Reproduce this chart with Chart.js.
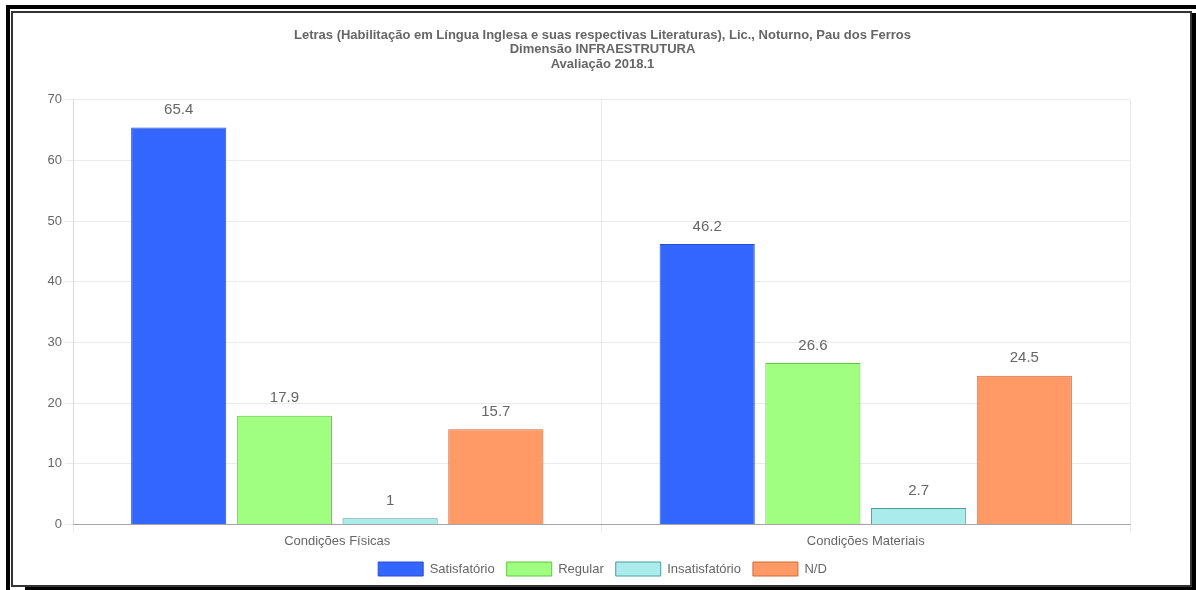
<!DOCTYPE html>
<html>
<head>
<meta charset="utf-8">
<script src="https://cdn.jsdelivr.net/npm/chart.js@4/dist/chart.umd.min.js"></script>
<style>
  html, body { margin: 0; padding: 0; background: #fff; }
  body { width: 1196px; height: 590px; position: relative; overflow: hidden; }
  .outer { position: absolute; left: 6px; top: 5px; width: 1190px; height: 585px;
           border-top: 4px solid #000; border-left: 4px solid #000; box-sizing: border-box; }
  .inner { position: absolute; left: 11px; top: 11px; width: 1181px; height: 576px;
           border: 2px solid #333; box-sizing: border-box; }
  .shadow-r { position: absolute; left: 1192px; top: 13px; width: 4px; height: 577px; background: #000; }
  .shadow-b { position: absolute; left: 25px; top: 587px; width: 1171px; height: 3px; background: #000; }
  .wrap { position: absolute; left: 14px; top: 14px; width: 1177px; height: 572px; }
</style>
</head>
<body>
<div class="outer"></div>
<div class="inner"></div>
<div class="shadow-r"></div>
<div class="shadow-b"></div>
<div class="wrap"><canvas id="chart"></canvas></div>
<script>
// Categories and series (percentages)
const categories = ['Condições Físicas', 'Condições Materiais'];
const satisfatorio = [65.4, 46.2];
const regular = [17.9, 26.6];
const insatisfatorio = [1, 2.7];
const naoDisponivel = [15.7, 24.5];
const seriesNames = ['Satisfatório', 'Regular', 'Insatisfatório', 'N/D'];
const titleLines = [
  'Letras (Habilitação em Língua Inglesa e suas respectivas Literaturas), Lic., Noturno, Pau dos Ferros',
  'Dimensão INFRAESTRUTURA',
  'Avaliação 2018.1'
];

const FONT = "Arial, 'Liberation Sans', Helvetica, sans-serif";
Chart.defaults.font.family = FONT;
Chart.defaults.color = '#666';

// Writes each bar's value above it
const valueLabels = {
  id: 'valueLabels',
  afterDatasetsDraw(chart) {
    const ctx = chart.ctx;
    ctx.save();
    ctx.font = '15px ' + FONT;
    ctx.fillStyle = '#666';
    ctx.textAlign = 'center';
    ctx.textBaseline = 'bottom';
    chart.data.datasets.forEach((ds, i) => {
      chart.getDatasetMeta(i).data.forEach((bar, j) => {
        ctx.fillText(String(ds.data[j]), bar.x, bar.y - 10);
      });
    });
    ctx.restore();
  }
};

new Chart(document.getElementById('chart'), {
  type: 'bar',
  data: {
    labels: categories,
    datasets: [
      { label: seriesNames[0], data: satisfatorio, backgroundColor: '#3366FF', borderColor: '#2A4FCC', borderWidth: 1 },
      { label: seriesNames[1], data: regular, backgroundColor: '#A0FF80', borderColor: '#5FC83C', borderWidth: 1 },
      { label: seriesNames[2], data: insatisfatorio, backgroundColor: '#AAEBEB', borderColor: '#4A9E9E', borderWidth: 1 },
      { label: seriesNames[3], data: naoDisponivel, backgroundColor: '#FF9966', borderColor: '#D0693A', borderWidth: 1 }
    ]
  },
  options: {
    responsive: true,
    maintainAspectRatio: false,
    animation: false,
    categoryPercentage: 0.8,
    barPercentage: 0.9,
    layout: { padding: { left: 0, right: 0, top: 4, bottom: 0 } },
    plugins: {
      title: {
        display: true,
        text: titleLines,
        color: '#666',
        font: { size: 13, weight: 'bold', lineHeight: 1.12 },
        padding: { top: 10, bottom: 28 }
      },
      legend: {
        position: 'bottom',
        labels: { boxWidth: 45, boxHeight: 14, font: { size: 13 }, color: '#666', padding: 12 }
      },
      tooltip: { enabled: false }
    },
    scales: {
      x: {
        grid: { color: 'rgba(0,0,0,0.08)', offset: true },
        border: { color: 'rgba(0,0,0,0.3)' },
        ticks: { font: { size: 13 }, color: '#666', padding: 1 }
      },
      y: {
        min: 0,
        max: 70,
        ticks: { stepSize: 10, font: { size: 13 }, color: '#666' },
        grid: { color: 'rgba(0,0,0,0.08)' },
        border: { color: 'rgba(0,0,0,0.08)' },
        afterFit(scale) { scale.width = 59; }
      },
      // empty right-hand margin axis
      yRight: {
        position: 'right',
        display: true,
        ticks: { display: false },
        grid: { display: false },
        border: { display: false },
        afterFit(scale) { scale.width = 61; }
      }
    }
  },
  plugins: [valueLabels]
});
</script>
</body>
</html>
